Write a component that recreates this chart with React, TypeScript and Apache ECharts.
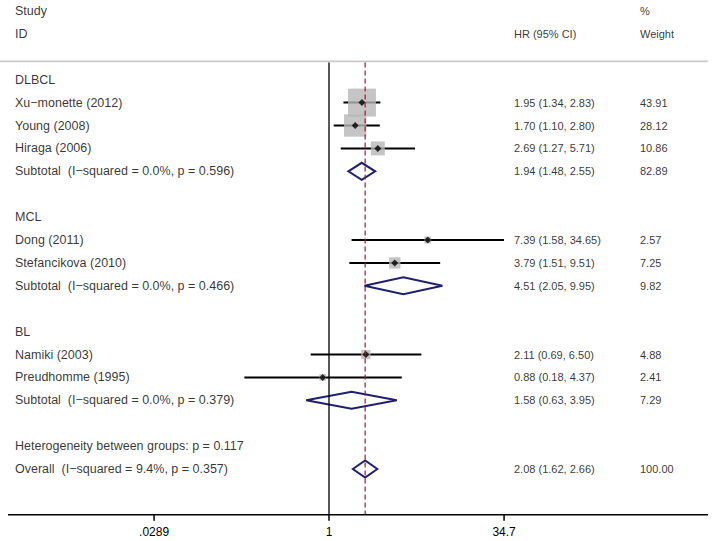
import React, { useEffect, useRef } from "react";
import * as echarts from "echarts";

// ---------- data ----------
const headerLeft = ["Study", "ID"];
const headerLeftRows = [0, 1];
const headerHR = ["HR (95% CI)"];
const headerHRRows = [1];
const headerWeight = ["%", "Weight"];
const headerWeightRows = [0, 1];

const groupNames = ["DLBCL", "MCL", "BL"];
const groupRows = [3, 9, 14];

const studyNames = [
  "Xu−monette (2012)",
  "Young (2008)",
  "Hiraga (2006)",
  "Dong (2011)",
  "Stefancikova (2010)",
  "Namiki (2003)",
  "Preudhomme (1995)",
];
const studyRows = [4, 5, 6, 10, 11, 15, 16];
const studyHR = [1.95, 1.7, 2.69, 7.39, 3.79, 2.11, 0.88];
const studyLo = [1.34, 1.1, 1.27, 1.58, 1.51, 0.69, 0.18];
const studyHi = [2.83, 2.8, 5.71, 34.65, 9.51, 6.5, 4.37];
const studyWeight = [43.91, 28.12, 10.86, 2.57, 7.25, 4.88, 2.41];

const pooledNames = [
  "Subtotal  (I−squared = 0.0%, p = 0.596)",
  "Subtotal  (I−squared = 0.0%, p = 0.466)",
  "Subtotal  (I−squared = 0.0%, p = 0.379)",
  "Overall  (I−squared = 9.4%, p = 0.357)",
];
const pooledRows = [7, 12, 17, 20];
const pooledHR = [1.94, 4.51, 1.58, 2.08];
const pooledLo = [1.48, 2.05, 0.63, 1.62];
const pooledHi = [2.55, 9.95, 3.95, 2.66];
const pooledWeight = [82.89, 9.82, 7.29, 100.0];

const heterogeneityText = ["Heterogeneity between groups: p = 0.117"];
const heterogeneityRows = [19];

const overallHR = 2.08;
const nullValue = 1;
const tickValues = [0.0289, 1, 34.7];
const tickLabels = [".0289", "1", "34.7"];

// ---------- layout ----------
const PX_PER_LN = 49.36;
const PLOT_LEFT = 8;
const PLOT_RIGHT = 708;
const NULL_X = 329;
const ROW_PX = 22.9;
const AXIS_ROW = 22;
const ROW_EXTENT = 23;
const TICK_ROWS = 6 / ROW_PX;
const LINE_TOP_ROW = 2.25;
const COL_STUDY = 15;
const COL_HR = 514;
const COL_W = 640;
const FONT = "'Liberation Sans', Arial, sans-serif";

const ln = (v: number) => Math.log(v);
const fmt = (v: number) => v.toFixed(2);

export default function App() {
  const ref = useRef<HTMLDivElement>(null);

  useEffect(() => {
    if (!ref.current) return;
    const chart = echarts.init(ref.current, undefined, { renderer: "svg" });

    const xMin = -(NULL_X - PLOT_LEFT) / PX_PER_LN;
    const xMax = (PLOT_RIGHT - NULL_X) / PX_PER_LN;

    const textItem = (name: string, x: number, r: number) => ({
      name,
      value: [x, r],
    });

    const leftTexts = [
      ...headerLeft.map((t, i) => textItem(t, COL_STUDY, headerLeftRows[i])),
      ...groupNames.map((t, i) => textItem(t, COL_STUDY, groupRows[i])),
      ...studyNames.map((t, i) => textItem(t, COL_STUDY, studyRows[i])),
      ...pooledNames.map((t, i) => textItem(t, COL_STUDY, pooledRows[i])),
      ...heterogeneityText.map((t, i) => textItem(t, COL_STUDY, heterogeneityRows[i])),
    ];
    const hrTexts = [
      ...headerHR.map((t, i) => textItem(t, COL_HR, headerHRRows[i])),
      ...studyHR.map((h, i) =>
        textItem(`${fmt(h)} (${fmt(studyLo[i])}, ${fmt(studyHi[i])})`, COL_HR, studyRows[i])
      ),
      ...pooledHR.map((h, i) =>
        textItem(`${fmt(h)} (${fmt(pooledLo[i])}, ${fmt(pooledHi[i])})`, COL_HR, pooledRows[i])
      ),
    ];
    const wTexts = [
      ...headerWeight.map((t, i) => textItem(t, COL_W, headerWeightRows[i])),
      ...studyWeight.map((w, i) => textItem(fmt(w), COL_W, studyRows[i])),
      ...pooledWeight.map((w, i) => textItem(fmt(w), COL_W, pooledRows[i])),
    ];

    const textSeries = (data: any[], size: number) => ({
      type: "scatter",
      xAxisIndex: 1,
      yAxisIndex: 1,
      symbolSize: 0,
      silent: true,
      clip: false,
      data,
      label: {
        show: true,
        position: "right",
        distance: 0,
        formatter: (p: any) => p.name,
        color: "#000",
        fontSize: size,
        fontFamily: FONT,
      },
    });

    const gridHeight = ROW_PX * ROW_EXTENT;

    const tickSeries = tickValues.map((t) => ({
      type: "line",
      symbol: "none",
      silent: true,
      lineStyle: { color: "#000", width: 1.5 },
      data: [
        [ln(t), AXIS_ROW],
        [ln(t), AXIS_ROW + TICK_ROWS],
      ],
    }));

    const option: any = {
      animation: false,
      textStyle: { fontFamily: FONT },
      grid: [
        { left: PLOT_LEFT, width: PLOT_RIGHT - PLOT_LEFT, top: 11, height: gridHeight },
        { left: 0, width: 714, top: 11, height: gridHeight },
      ],
      xAxis: [
        {
          type: "value",
          gridIndex: 0,
          min: xMin,
          max: xMax,
          show: false,
        },
        { type: "value", gridIndex: 1, min: 0, max: 714, show: false },
      ],
      yAxis: [
        { type: "value", gridIndex: 0, min: 0, max: ROW_EXTENT, inverse: true, show: false },
        { type: "value", gridIndex: 1, min: 0, max: ROW_EXTENT, inverse: true, show: false },
      ],
      series: [
        // header separator
        {
          type: "line",
          xAxisIndex: 1,
          yAxisIndex: 1,
          symbol: "none",
          silent: true,
          lineStyle: { color: "#c9c9c9", width: 1.6 },
          data: [
            [0, 2.2],
            [PLOT_RIGHT, 2.2],
          ],
        },
        // null line
        {
          type: "line",
          symbol: "none",
          silent: true,
          lineStyle: { color: "#000", width: 1.3 },
          data: [
            [ln(nullValue), LINE_TOP_ROW],
            [ln(nullValue), AXIS_ROW],
          ],
        },
        // overall effect line
        {
          type: "line",
          symbol: "none",
          silent: true,
          lineStyle: { color: "#a0182c", width: 1.2, type: [5, 3] },
          data: [
            [ln(overallHR), LINE_TOP_ROW],
            [ln(overallHR), AXIS_ROW],
          ],
        },
        // weight squares
        {
          type: "scatter",
          symbol: "rect",
          silent: true,
          symbolSize: (v: number[]) => 4.22 * Math.sqrt(v[2]),
          itemStyle: { color: "#b6b6b6" },
          data: studyHR.map((h, i) => [ln(h), studyRows[i], studyWeight[i]]),
        },
        // confidence intervals
        {
          type: "custom",
          silent: true,
          encode: { x: [0, 1], y: 2 },
          data: studyLo.map((l, i) => [ln(l), ln(studyHi[i]), studyRows[i]]),
          renderItem: (params: any, api: any) => {
            const a = api.coord([api.value(0), api.value(2)]);
            const b = api.coord([api.value(1), api.value(2)]);
            return {
              type: "line",
              shape: { x1: a[0], y1: a[1], x2: b[0], y2: b[1] },
              style: { stroke: "#000", lineWidth: 2 },
            };
          },
        },
        // point estimates
        {
          type: "scatter",
          symbol: "diamond",
          silent: true,
          symbolSize: 7,
          itemStyle: { color: "#000" },
          data: studyHR.map((h, i) => [ln(h), studyRows[i]]),
        },
        // pooled diamonds
        {
          type: "custom",
          silent: true,
          encode: { x: [0, 1, 2], y: 3 },
          data: pooledHR.map((h, i) => [ln(pooledLo[i]), ln(h), ln(pooledHi[i]), pooledRows[i]]),
          renderItem: (params: any, api: any) => {
            const lo = api.coord([api.value(0), api.value(3)]);
            const mid = api.coord([api.value(1), api.value(3)]);
            const hi = api.coord([api.value(2), api.value(3)]);
            const h = 8.5;
            return {
              type: "polygon",
              shape: {
                points: [
                  [lo[0], lo[1]],
                  [mid[0], mid[1] - h],
                  [hi[0], hi[1]],
                  [mid[0], mid[1] + h],
                ],
              },
              style: { fill: "none", stroke: "#1d2070", lineWidth: 2 },
            };
          },
        },
        // x axis line
        {
          type: "line",
          symbol: "none",
          silent: true,
          lineStyle: { color: "#000", width: 1.5 },
          data: [
            [xMin, AXIS_ROW],
            [xMax, AXIS_ROW],
          ],
        },
        // x axis ticks
        ...tickSeries,
        // x axis tick labels
        {
          type: "custom",
          silent: true,
          clip: false,
          encode: { x: 0, y: 1 },
          data: tickValues.map((t, i) => [ln(t), AXIS_ROW, i]),
          renderItem: (params: any, api: any) => {
            const p = api.coord([api.value(0), api.value(1)]);
            return {
              type: "text",
              x: p[0],
              y: p[1] + 17,
              style: {
                text: tickLabels[api.value(2)],
                fill: "#000",
                font: `12px ${FONT}`,
                align: "center",
                verticalAlign: "middle",
              },
            };
          },
        },
        textSeries(leftTexts, 12.5),
        textSeries(hrTexts, 11),
        textSeries(wTexts, 11),
      ],
    };

    chart.setOption(option);
    return () => chart.dispose();
  }, []);

  return (
    <div
      ref={ref}
      style={{ position: "absolute", left: 0, top: 0, width: 714, height: 541 }}
    />
  );
}
